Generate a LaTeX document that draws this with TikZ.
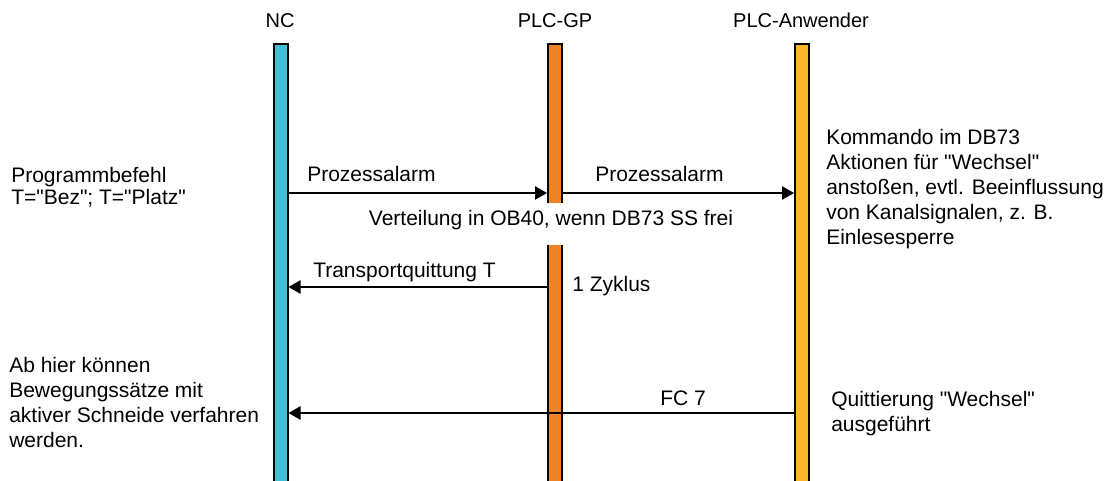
\documentclass[tikz,border=0pt]{standalone}
\usepackage{fontspec}
\setmainfont{Liberation Sans}[Ligatures=TeXOff]
\usetikzlibrary{arrows.meta}
\definecolor{nccol}{RGB}{69,191,214}
\definecolor{gpcol}{RGB}{240,131,38}
\definecolor{usrcol}{RGB}{251,182,43}
\begin{document}
\begin{tikzpicture}[x=0.75pt,y=-0.75pt,
  lifeline/.style={draw=black, line width=1.5pt, minimum width=10.5pt,
    minimum height=345pt, inner sep=0pt, anchor=north},
  head/.style={inner sep=0pt, anchor=base, font=\fontsize{15pt}{17pt}\selectfont},
  lbl/.style={inner sep=0pt, anchor=base west, font=\fontsize{15.75pt}{18.75pt}\selectfont},
  block/.style={lbl, align=left},
  msg/.style={line width=1pt, -{Triangle[length=9pt,width=10pt]}}
]
\useasboundingbox (0,0) rectangle (1109,480);
\clip (0,0) rectangle (1109,480);

% lifelines
\node[lifeline, fill=nccol]  (nc)  at (280.5,43) {};
\node[lifeline, fill=gpcol]  (gp)  at (555,43) {};
\node[lifeline, fill=usrcol] (usr) at (802,43) {};

% headings
\node[head] (hnc)  at (280,27) {NC};
\node[head] (hgp)  at (555,27) {PLC-GP};
\node[head] (husr) at (801,27) {PLC-Anwender};

% side notes (anchored at the baseline of their last line)
\node[block, font=\fontsize{15.75pt}{16.5pt}\selectfont] (prog) at (11,204)
  {Programmbefehl\\T="Bez"; T="Platz"};
\node[block] (ab) at (9,447)
  {Ab hier können\\Bewegungssätze mit\\aktiver Schneide verfahren\\werden.};
\node[block] (kdo) at (826,244)
  {Kommando im DB73\\Aktionen für "Wechsel"\\anstoßen, evtl. Beeinflussung\\von Kanalsignalen, z. B.\\Einlesesperre};
\node[block] (quit) at (831,431)
  {Quittierung "Wechsel"\\ausgeführt};

% distribution note, masking the PLC-GP lifeline
\node[lbl, anchor=base, fill=white, text height=16.5pt, text depth=15pt,
  inner xsep=3pt] (vert) at (551,225) {Verteilung in OB40, wenn DB73 SS frei};

% messages
\draw[msg] (nc.east |- 0,193) -- (gp.west |- 0,193);
\draw[msg] (gp.east |- 0,193) -- (usr.west |- 0,193);
\draw[msg] (gp.west |- 0,287) -- (nc.east |- 0,287);
\draw[msg] (usr.west |- 0,413) -- (nc.east |- 0,413);

% message labels
\node[lbl] (m1) at (307,181) {Prozessalarm};
\node[lbl] (m2) at (595,181) {Prozessalarm};
\node[lbl] (m3) at (313,277) {Transportquittung T};
\node[lbl] (cyc) at (572,291) {1 Zyklus};
\node[lbl, anchor=base] (m4) at (683,405) {FC 7};
\end{tikzpicture}
\end{document}
